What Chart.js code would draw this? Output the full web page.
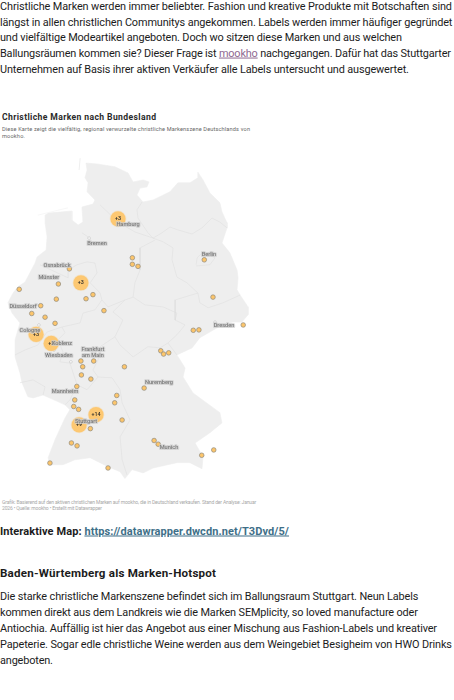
<!DOCTYPE html>
<html lang="de"><head><meta charset="utf-8">
<script src="https://cdn.jsdelivr.net/npm/chart.js@4"></script>
<style>
html,body{margin:0;padding:0;background:#fff;width:454px;height:700px;overflow:hidden}
.t{position:absolute;white-space:nowrap;line-height:1;transform:translateY(-50%);color:#1c1c1c;font-family:Roboto,sans-serif;font-size:10.9px}
.b{font-weight:700}
.m{text-decoration:underline;color:#8f6a92}
.l{text-decoration:underline;color:#3e6f88}
#map{position:absolute;left:0;top:150px;filter:blur(.35px)}
</style></head><body>
<div class="t" style="left:0;top:7.3px" data-w="452">Christliche Marken werden immer beliebter. Fashion und kreative Produkte mit Botschaften sind</div>
<div class="t" style="left:0;top:22.5px" data-w="452">längst in allen christlichen Communitys angekommen. Labels werden immer häufiger gegründet</div>
<div class="t" style="left:0;top:38.3px" data-w="402">und vielfältige Modeartikel angeboten. Doch wo sitzen diese Marken und aus welchen</div>
<div class="t" style="left:0;top:54.3px" data-w="451">Ballungsräumen kommen sie? Dieser Frage ist <span class="m">mookho</span> nachgegangen. Dafür hat das Stuttgarter</div>
<div class="t" style="left:0;top:69.5px" data-w="409">Unternehmen auf Basis ihrer aktiven Verkäufer alle Labels untersucht und ausgewertet.</div>
<div class="t b" style="left:2px;top:116.7px;font-size:8.6px;color:#2a2a2a" data-w="154">Christliche Marken nach Bundesland</div>
<div class="t" style="left:2px;top:129.6px;font-size:5.6px;color:#666" data-w="248">Diese Karte zeigt die vielfältig, regional verwurzelte christliche Markenszene Deutschlands von</div>
<div class="t" style="left:2px;top:137px;font-size:5.6px;color:#666" data-w="23">mookho.</div>
<canvas id="map" width="256" height="336" style="width:256px;height:336px"></canvas>
<div class="t" style="left:2px;top:502px;font-size:5px;color:#a8a8a8" data-w="254">Grafik: Basierend auf den aktiven christlichen Marken auf mookho, die in Deutschland verkaufen. Stand der Analyse: Januar</div>
<div class="t" style="left:2px;top:507.6px;font-size:5px;color:#a8a8a8" data-w="100">2026 • Quelle: mookho • Erstellt mit Datawrapper</div>
<div class="t b" style="left:0;top:530.7px;font-size:11px" data-w="289">Interaktive Map: <span class="l">https://datawrapper.dwcdn.net/T3Dvd/5/</span></div>
<div class="t b" style="left:0;top:574px;font-size:11.6px" data-w="216">Baden-Würtemberg als Marken-Hotspot</div>
<div class="t" style="left:0;top:597.4px" data-w="418">Die starke christliche Markenszene befindet sich im Ballungsraum Stuttgart. Neun Labels</div>
<div class="t" style="left:0;top:613.3px" data-w="418">kommen direkt aus dem Landkreis wie die Marken SEMplicity, so loved manufacture oder</div>
<div class="t" style="left:0;top:629.3px" data-w="437">Antiochia. Auffällig ist hier das Angebot aus einer Mischung aus Fashion-Labels und kreativer</div>
<div class="t" style="left:0;top:644.7px" data-w="452">Papeterie. Sogar edle christliche Weine werden aus dem Weingebiet Besigheim von HWO Drinks</div>
<div class="t" style="left:0;top:660.7px" data-w="53">angeboten.</div>
<script>
// Brand locations (longitude / latitude)
const brandLon=[10.67,10.67,10.89,8.21,13.48,7.78,6.25,9.13,8.86,7.70,13.82,7.09,6.74,7.26,9.56,7.65,15.00,13.05,13.27,11.78,11.89,12.09,8.66,9.16,8.73,10.36,8.68,9.05,11.13,8.50,10.06,8.42,9.98,8.38,8.57,10.27,9.03,8.29,8.51,11.52,11.68,13.85,13.38,7.45,9.72];
const brandLat=[52.62,52.46,52.41,52.35,52.57,51.98,51.85,51.72,51.62,51.61,51.66,51.45,51.26,51.17,51.33,51.02,50.98,50.85,50.86,50.35,50.27,50.30,50.10,50.10,49.96,49.96,49.76,49.66,49.44,49.48,49.26,49.15,49.08,48.99,48.92,48.66,48.45,48.10,48.03,48.16,48.07,47.93,47.80,47.61,47.49];
// Clusters
const clusterLon=[10.11,8.66,6.91,7.50,9.25,8.59];
const clusterLat=[53.57,52.01,50.75,50.53,48.79,48.54];
const clusterLabels=["+3","+3","+3","+2","+14","+9"];
// Cities
const cityNames=["Hamburg","Bremen","Osnabrück","Münster","Berlin","Düsseldorf","Dresden","Cologne","Koblenz","Wiesbaden","Frankfurt\nam Main","Mannheim","Nuremberg","Stuttgart","Munich"];
const cityLon=[10.50,9.29,7.73,7.41,13.66,6.40,14.25,6.67,7.92,7.80,9.13,8.04,11.71,8.86,12.10];
const cityLat=[53.42,52.96,52.42,52.13,52.69,51.42,50.96,50.84,50.52,50.23,50.31,49.35,49.57,48.62,47.98];
const cityDotLon=[8.98,7.02,7.61,8.27,13.90];
const cityDotLat=[53.10,50.98,50.37,50.08,51.05];
// Country outline [lon,lat]
const outline=[[8.86,54.93],[9.29,54.91],[9.99,54.84],[10.50,54.69],[10.70,54.47],[11.09,54.52],[11.32,54.47],[11.24,54.35],[10.97,54.32],[10.85,54.15],[11.09,53.98],[11.48,54.03],[12.14,54.23],[12.45,54.45],[12.92,54.45],[13.23,54.57],[13.23,54.71],[13.43,54.52],[13.70,54.20],[14.09,53.96],[14.17,53.74],[14.37,53.47],[14.37,53.35],[14.17,52.98],[14.48,52.74],[14.76,52.32],[14.80,52.13],[14.76,51.84],[14.88,51.71],[15.19,51.42],[15.19,51.23],[14.95,51.05],[14.60,51.05],[13.98,50.91],[13.31,50.67],[13.00,50.42],[12.41,50.25],[12.73,49.93],[12.65,49.71],[13.04,49.32],[14.09,48.84],[14.17,48.59],[13.70,48.35],[13.12,48.10],[13.43,47.76],[13.39,47.47],[12.92,47.62],[12.41,47.62],[11.48,47.49],[11.09,47.37],[10.66,47.45],[10.38,47.23],[10.19,47.40],[9.72,47.52],[9.02,47.74],[8.43,47.69],[7.96,47.57],[7.45,47.57],[7.38,47.74],[7.65,48.18],[8.04,48.71],[8.23,48.91],[8.04,49.03],[7.18,49.27],[6.79,49.20],[6.59,49.23],[6.36,49.57],[6.28,49.81],[6.09,50.20],[6.09,50.62],[6.20,50.86],[6.28,51.03],[5.97,51.27],[5.81,51.52],[6.01,51.76],[6.20,51.91],[6.48,52.03],[6.87,52.49],[6.95,52.64],[7.30,52.81],[7.34,53.13],[7.26,53.47],[7.26,53.66],[7.38,53.71],[8.31,53.76],[8.31,53.54],[8.55,53.42],[8.74,53.49],[8.70,53.86],[9.13,53.93],[9.21,54.03],[8.90,54.23],[8.94,54.45],[8.82,54.57],[8.90,54.76],[8.86,54.93]];
// State borders [lon,lat]
const borderA=[[11.48,53.10],[11.83,53.23],[12.14,53.37],[12.45,53.30],[13.00,53.20],[13.39,53.35],[13.78,53.59],[14.09,53.49],[14.37,53.35]];
const borderB=[[11.48,53.10],[11.28,53.23],[10.89,53.59],[10.85,53.79],[11.05,53.98]];
const borderC=[[9.41,53.91],[10.11,53.49],[10.77,53.25],[11.48,53.10]];
const borderD=[[11.48,53.10],[11.87,53.01],[12.26,52.86],[12.22,52.57],[12.41,52.15],[12.80,52.01],[13.23,51.76],[13.31,51.52],[13.63,51.40],[14.21,51.52],[14.88,51.71]];
const borderE=[[13.23,51.76],[12.34,51.59],[12.34,51.10],[12.73,50.98],[12.41,50.74],[12.06,50.54],[12.41,50.25]];
const borderF=[[11.55,53.05],[10.97,52.86],[10.97,52.32],[10.77,52.01],[10.70,51.66],[11.16,51.47],[11.87,51.42],[12.41,51.27],[12.34,51.10]];
const borderG=[[12.06,50.54],[11.75,50.42],[11.28,50.45],[10.70,50.20],[10.19,50.49],[9.99,50.69]];
const borderH=[[10.70,51.66],[10.38,51.59],[9.91,51.30],[10.30,51.10],[9.99,50.69]];
const borderI=[[8.16,52.32],[8.51,52.45],[8.90,52.52],[9.21,52.49],[9.29,52.25],[9.02,52.01],[9.41,51.76],[9.48,51.59],[9.21,51.35],[8.74,51.27],[8.63,51.03],[7.92,50.93]];
const borderI2=[[7.06,52.45],[8.16,52.13],[8.16,52.32]];
const borderJ=[[9.48,51.59],[9.72,51.42],[10.38,51.59]];
const borderK=[[7.92,50.93],[8.04,50.79],[7.77,50.62],[7.96,50.32],[7.84,50.08],[8.23,50.05],[8.51,49.52],[8.90,49.40],[9.33,49.71]];
const borderL=[[9.99,50.69],[9.41,50.45],[9.33,50.13],[9.13,49.88],[9.33,49.71]];
const borderM=[[9.33,49.71],[9.88,49.69],[10.19,49.40],[10.27,49.08],[10.58,48.66],[10.19,48.25],[10.27,47.69],[10.46,47.32]];
const borderN=[[8.51,49.52],[8.23,49.15],[8.04,49.03]];
const borderO=[[6.28,49.57],[6.79,49.64],[7.26,49.47],[7.18,49.27]];
const borderP=[[7.92,50.93],[7.34,50.81],[6.98,50.49],[6.48,50.37],[6.09,50.25]];
const borderBremen=[[8.70,53.23],[8.94,53.13],[9.09,53.03]];
const borderBerlin=[[13.16,52.45],[13.20,52.62],[13.43,52.76],[13.90,52.62],[13.70,52.45],[13.16,52.42]];
const islandsA=[[6.98,53.66],[8.16,53.84]];
const islandsB=[[8.63,55.05],[8.59,54.76]];
const allBorders=[borderA,borderB,borderC,borderD,borderE,borderF,borderG,borderH,borderI,borderI2,borderJ,borderK,borderL,borderM,borderN,borderO,borderP,borderBremen,borderBerlin];

const pts=a=>a.map(p=>({x:p[0],y:p[1]}));
const zip=(a,b)=>a.map((v,i)=>({x:v,y:b[i]}));

const overlay={id:'overlay',afterDatasetsDraw(c){
  const g=c.ctx,X=c.scales.x,Y=c.scales.y;
  g.save();g.textAlign='center';g.textBaseline='middle';
  clusterLabels.forEach((s,i)=>{g.font='500 5.4px Roboto,sans-serif';g.fillStyle='#2a2a2a';
    g.fillText(s,X.getPixelForValue(clusterLon[i]),Y.getPixelForValue(clusterLat[i]));});
  cityNames.forEach((s,i)=>{const lines=s.split('\n');const x=X.getPixelForValue(cityLon[i]),y=Y.getPixelForValue(cityLat[i]);
    g.font='500 5.6px Roboto,sans-serif';
    lines.forEach((ln,j)=>{const yy=y+(j-(lines.length-1)/2)*6.6;
      g.lineJoin='round';g.lineWidth=2.2;g.strokeStyle='rgba(205,205,205,.7)';g.strokeText(ln,x,yy);
      g.fillStyle='#7a7a7a';g.fillText(ln,x,yy);});});
  g.restore();}};

new Chart(document.getElementById('map'),{
  type:'scatter',
  data:{datasets:[
    {data:pts(outline),showLine:true,fill:'shape',backgroundColor:'#eeeeee',borderColor:'#eeeeee',borderWidth:.6,pointRadius:0,order:10},
    {data:pts(islandsA),showLine:true,borderColor:'#f5f5f5',borderWidth:.8,pointRadius:0,order:9},
    {data:pts(islandsB),showLine:true,borderColor:'#efefef',borderWidth:1,pointRadius:0,order:9},
    ...allBorders.map(b=>({data:pts(b),showLine:true,borderColor:'#dedede',borderWidth:.55,pointRadius:0,order:8})),
    {data:zip(cityDotLon,cityDotLat),pointRadius:1.3,pointBackgroundColor:'#fff',pointBorderColor:'#b5b5b5',pointBorderWidth:.5,order:7},
    {data:zip(clusterLon,clusterLat),pointRadius:7.6,pointBackgroundColor:'#fdc872',pointBorderColor:'rgba(253,200,114,.25)',pointBorderWidth:1.5,order:6},
    {data:zip(brandLon,brandLat),pointRadius:2.3,pointBackgroundColor:'#fcc56b',pointBorderColor:'#8f8a7c',pointBorderWidth:.7,order:5}
  ]},
  options:{responsive:false,animation:false,events:[],
    layout:{padding:0,autoPadding:false},
    scales:{x:{type:'linear',min:5.5,max:15.5,display:false},y:{type:'linear',min:47.05,max:55.25,display:false}},
    plugins:{legend:{display:false},tooltip:{enabled:false}}},
  plugins:[overlay]
});
// Fit each text line to its measured width in the reference
document.querySelectorAll('.t[data-w]').forEach(el=>{
  const n=el.textContent.length-1, w=el.getBoundingClientRect().width;
  el.style.letterSpacing=((+el.dataset.w-w)/n).toFixed(3)+'px';
});
</script>
</body></html>
